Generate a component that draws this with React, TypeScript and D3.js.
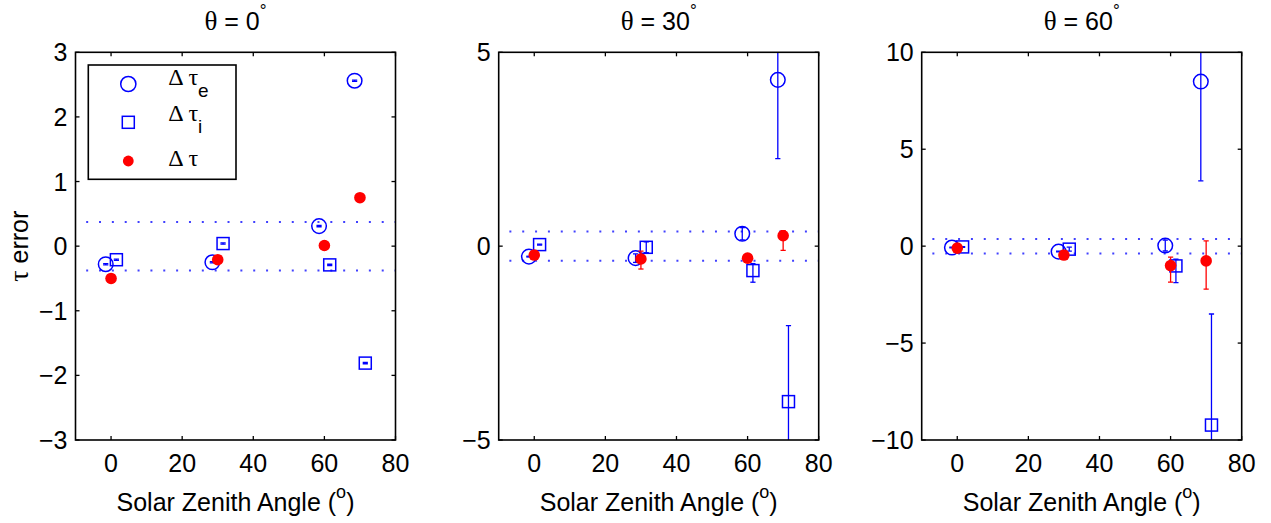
import React from "react";
import * as d3 from "d3";

// ---------- data ----------
const sza = [0, 30, 60, 70];
const xOffsetE = -1.5;
const xOffsetI = 1.5;
const xOffsetT = 0;

const thetas = [0, 30, 60];
const yDomains: [number, number][] = [[-3, 3], [-5, 5], [-10, 10]];
const yTickSets = [[-3, -2, -1, 0, 1, 2, 3], [-5, 0, 5], [-10, -5, 0, 5, 10]];
const xTicks = [0, 20, 40, 60, 80];
const refBand = 0.375;
const refX = [-7, 80];

// theta = 0
const tauE0 = [-0.28, -0.25, 0.31, 2.56];
const tauE0Lo = [0.01, 0.01, 0.01, 0.01];
const tauE0Hi = [0.01, 0.01, 0.01, 0.01];
const tauI0 = [-0.21, 0.04, -0.29, -1.81];
const tauI0Lo = [0.01, 0.01, 0.01, 0.01];
const tauI0Hi = [0.01, 0.01, 0.01, 0.01];
const tau0 = [-0.5, -0.21, 0.01, 0.75];
const tau0Lo = [0.01, 0.01, 0.01, 0.01];
const tau0Hi = [0.01, 0.01, 0.01, 0.01];

// theta = 30
const tauE30 = [-0.27, -0.31, 0.32, 4.29];
const tauE30Lo = [0.01, 0.11, 0.16, 2.03];
const tauE30Hi = [0.01, 0.11, 0.16, 2.03];
const tauI30 = [0.04, -0.03, -0.63, -4.01];
const tauI30Lo = [0.01, 0.14, 0.3, 1.96];
const tauI30Hi = [0.01, 0.14, 0.18, 1.96];
const tau30 = [-0.23, -0.33, -0.31, 0.27];
const tau30Lo = [0.05, 0.26, 0.1, 0.38];
const tau30Hi = [0.05, 0.2, 0.1, 0.13];

// theta = 60
const tauE60 = [-0.07, -0.28, 0.03, 8.49];
const tauE60Lo = [0.02, 0.02, 0.28, 5.12];
const tauE60Hi = [0.02, 0.02, 0.28, 5.12];
const tauI60 = [-0.04, -0.155, -1.02, -9.23];
const tauI60Lo = [0.02, 0.1, 0.86, 5.73];
const tauI60Hi = [0.02, 0.1, 0.35, 5.73];
const tau60 = [-0.1, -0.46, -1.0, -0.76];
const tau60Lo = [0.05, 0.1, 0.86, 1.46];
const tau60Hi = [0.05, 0.1, 0.43, 1.03];

const seriesE = [tauE0, tauE30, tauE60];
const seriesELo = [tauE0Lo, tauE30Lo, tauE60Lo];
const seriesEHi = [tauE0Hi, tauE30Hi, tauE60Hi];
const seriesI = [tauI0, tauI30, tauI60];
const seriesILo = [tauI0Lo, tauI30Lo, tauI60Lo];
const seriesIHi = [tauI0Hi, tauI30Hi, tauI60Hi];
const seriesT = [tau0, tau30, tau60];
const seriesTLo = [tau0Lo, tau30Lo, tau60Lo];
const seriesTHi = [tau0Hi, tau30Hi, tau60Hi];

// ---------- layout ----------
const W = 1271;
const H = 523;
const panelLefts = [75.5, 498.7, 921.7];
const panelW = 320;
const top = 52.3;
const bottom = 440;
const FONT = "'Liberation Sans', Arial, Helvetica, sans-serif";
const GREEK = "'Liberation Serif', 'DejaVu Serif', serif";
const BLUE = "#0000ff";
const RED = "#ff0000";
const tickLen = 4;
const cap = 2.6;

function ErrBar({ x, y0, y1, color }: { x: number; y0: number; y1: number; color: string }) {
  return (
    <g stroke={color} strokeWidth={1.3}>
      <line x1={x} x2={x} y1={y0} y2={y1} />
      <line x1={x - cap} x2={x + cap} y1={y0} y2={y0} />
      <line x1={x - cap} x2={x + cap} y1={y1} y2={y1} />
    </g>
  );
}

function Panel({ i }: { i: number }) {
  const left = panelLefts[i];
  const right = left + panelW;
  const x = d3.scaleLinear().domain([-10, 80]).range([left, right]);
  const y = d3.scaleLinear().domain(yDomains[i]).range([bottom, top]);
  const cx = (left + right) / 2;
  const clipId = `clip${i}`;
  const E = seriesE[i], I = seriesI[i], T = seriesT[i];
  return (
    <g>
      <defs>
        <clipPath id={clipId}>
          <rect x={left} y={top} width={panelW} height={bottom - top} />
        </clipPath>
      </defs>
      {/* title */}
      <text x={cx} y={30} textAnchor="middle" fontSize={25} fontFamily={FONT}>
        <tspan fontFamily={GREEK} fontSize={27}>θ</tspan>
        {` = ${thetas[i]}`}
        <tspan dy={-14} fontSize={17}>°</tspan>
      </text>
      {/* reference dotted lines */}
      <g clipPath={`url(#${clipId})`}>
        {[refBand, -refBand].map((v) => (
          <line key={v} x1={x(refX[0])} x2={x(refX[1])} y1={y(v)} y2={y(v)}
            stroke={BLUE} strokeOpacity={0.75} strokeWidth={2} strokeDasharray="2 10.85" />
        ))}
        {/* Δτe */}
        {sza.map((s, k) => (
          <g key={"e" + k}>
            <ErrBar x={x(s + xOffsetE)} y0={y(E[k] + seriesEHi[i][k])} y1={y(E[k] - seriesELo[i][k])} color={BLUE} />
            <circle cx={x(s + xOffsetE)} cy={y(E[k])} r={7.3} fill="none" stroke={BLUE} strokeWidth={1.5} />
          </g>
        ))}
        {/* Δτi */}
        {sza.map((s, k) => (
          <g key={"i" + k}>
            <ErrBar x={x(s + xOffsetI)} y0={y(I[k] + seriesIHi[i][k])} y1={y(I[k] - seriesILo[i][k])} color={BLUE} />
            <rect x={x(s + xOffsetI) - 6} y={y(I[k]) - 6} width={12} height={12} fill="none" stroke={BLUE} strokeWidth={1.5} />
          </g>
        ))}
        {/* Δτ */}
        {sza.map((s, k) => (
          <g key={"t" + k}>
            <ErrBar x={x(s + xOffsetT)} y0={y(T[k] + seriesTHi[i][k])} y1={y(T[k] - seriesTLo[i][k])} color={RED} />
            <circle cx={x(s + xOffsetT)} cy={y(T[k])} r={5.8} fill={RED} />
          </g>
        ))}
      </g>
      {/* frame */}
      <rect x={left} y={top} width={panelW} height={bottom - top} fill="none" stroke="#000" strokeWidth={1.6} />
      {/* x ticks */}
      {xTicks.map((t) => (
        <g key={"xt" + t}>
          <line x1={x(t)} x2={x(t)} y1={bottom} y2={bottom - tickLen} stroke="#000" strokeWidth={1.3} />
          <line x1={x(t)} x2={x(t)} y1={top} y2={top + tickLen} stroke="#000" strokeWidth={1.3} />
          <text x={x(t)} y={471.5} textAnchor="middle" fontSize={25} fontFamily={FONT}>{t}</text>
        </g>
      ))}
      {/* y ticks */}
      {yTickSets[i].map((t) => (
        <g key={"yt" + t}>
          <line x1={left} x2={left + tickLen} y1={y(t)} y2={y(t)} stroke="#000" strokeWidth={1.3} />
          <line x1={right} x2={right - tickLen} y1={y(t)} y2={y(t)} stroke="#000" strokeWidth={1.3} />
          <text x={left - 8} y={y(t) + 9} textAnchor="end" fontSize={25} fontFamily={FONT}>
            {t < 0 ? `\u2212${Math.abs(t)}` : `${t}`}
          </text>
        </g>
      ))}
      {/* x label */}
      <text x={cx} y={510.5} textAnchor="middle" fontSize={25} fontFamily={FONT}>
        Solar Zenith Angle (<tspan dy={-13} fontSize={18}>o</tspan><tspan dy={13}>)</tspan>
      </text>
      {i === 0 && (
        <text transform={`translate(28,${(top + bottom) / 2}) rotate(-90)`} textAnchor="middle" fontSize={25} fontFamily={FONT}>
          <tspan fontFamily={GREEK} fontSize={28}>τ</tspan> error
        </text>
      )}
      {i === 0 && <Legend />}
    </g>
  );
}

const legendLabels = [
  { main: "Δ τ", sub: "e" },
  { main: "Δ τ", sub: "i" },
  { main: "Δ τ", sub: "" },
];

function Legend() {
  const mx = 128.3;
  const markerY = [84, 122.3, 161];
  const textY = [85, 121, 166];
  return (
    <g>
      <rect x={88.3} y={65} width={147.7} height={114.3} fill="#fff" stroke="#000" strokeWidth={1.6} />
      <circle cx={mx} cy={markerY[0]} r={7.6} fill="none" stroke={BLUE} strokeWidth={1.5} />
      <rect x={mx - 6} y={markerY[1] - 6} width={12} height={12} fill="none" stroke={BLUE} strokeWidth={1.5} />
      <circle cx={mx} cy={markerY[2]} r={5.4} fill={RED} />
      {legendLabels.map((l, k) => (
        <text key={k} x={168.3} y={textY[k]} fontSize={24} fontFamily={GREEK}>
          {l.main}
          {l.sub && <tspan dy={12} fontSize={19} fontFamily={FONT}>{l.sub}</tspan>}
        </text>
      ))}
    </g>
  );
}

export default function App() {
  return (
    <svg width={W} height={H} style={{ position: "absolute", left: 0, top: 0, background: "#fff" }}>
      <rect width={W} height={H} fill="#fff" />
      {thetas.map((_, i) => <Panel key={i} i={i} />)}
    </svg>
  );
}
